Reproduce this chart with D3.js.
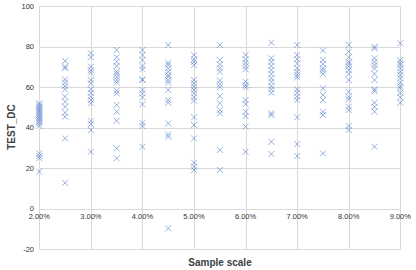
<!DOCTYPE html>
<html>
<head>
<meta charset="utf-8">
<script src="https://cdn.jsdelivr.net/npm/d3@7"></script>
<style>
  html, body { margin: 0; padding: 0; background: #fff; }
  svg { display: block; }
</style>
</head>
<body>
<svg id="chart"></svg>
<script>
// sample scale (%) for each column of points
const sampleScale = [2, 2.5, 3, 3.5, 4, 4.5, 5, 5.5, 6, 6.5, 7, 7.5, 8, 8.5, 9];

// TEST_DC values, one list per sample scale
const testDc = [
	[52.0, 51.2, 50.3, 49.5, 48.7, 48.0, 47.1, 46.3, 45.4, 44.6, 43.8, 43.0, 42.1, 40.8, 27.3, 26.0, 24.9, 18.3],
	[72.9, 70.1, 69.3, 63.8, 62.2, 60.5, 58.9, 55.3, 52.8, 50.3, 47.4, 45.4, 34.7, 12.8],
	[76.7, 74.7, 70.1, 68.4, 67.1, 63.5, 61.9, 58.9, 57.2, 55.3, 53.6, 52.0, 43.4, 41.8, 38.8, 28.1],
	[78.3, 74.7, 72.5, 70.4, 67.6, 66.5, 65.1, 63.5, 62.2, 58.2, 56.9, 51.2, 47.9, 43.4, 29.8, 24.9],
	[78.3, 75.8, 73.4, 70.4, 68.8, 63.8, 63.5, 58.6, 56.9, 55.0, 51.5, 42.4, 40.8, 30.6],
	[80.8, 72.0, 70.9, 69.3, 67.6, 66.0, 65.1, 63.5, 62.2, 58.6, 53.6, 52.3, 42.1, 36.7, 35.5, -9.7],
	[75.8, 73.7, 72.5, 70.9, 63.5, 61.9, 60.2, 58.6, 56.9, 55.0, 53.3, 45.1, 41.3, 34.7, 22.7, 20.7, 19.1],
	[80.8, 73.4, 71.2, 69.3, 67.6, 63.2, 61.5, 60.0, 55.6, 52.0, 48.7, 47.1, 29.0, 19.1],
	[75.8, 73.7, 72.0, 70.4, 68.8, 62.7, 61.0, 59.9, 53.6, 51.7, 47.9, 45.7, 40.5, 28.1],
	[81.9, 74.2, 72.5, 70.4, 68.4, 66.5, 64.3, 62.7, 60.5, 58.9, 57.2, 47.1, 46.2, 33.1, 27.0],
	[80.8, 75.8, 73.7, 71.7, 69.3, 67.6, 66.0, 64.8, 58.9, 57.2, 55.3, 53.6, 45.1, 31.9, 26.0],
	[78.0, 73.4, 71.4, 69.3, 68.1, 66.5, 59.4, 56.1, 53.6, 47.9, 46.2, 27.3],
	[80.8, 77.5, 74.7, 72.5, 71.4, 70.1, 68.4, 66.5, 63.5, 57.7, 55.3, 54.0, 50.3, 48.7, 40.8, 38.8],
	[79.9, 79.1, 74.2, 72.5, 70.9, 69.3, 66.5, 63.5, 58.9, 58.0, 52.3, 50.3, 47.9, 30.6],
	[81.6, 73.4, 72.0, 70.9, 69.3, 67.6, 66.0, 64.3, 62.2, 60.5, 59.4, 57.2, 55.0, 52.3]
];

const yTicks = [-20, 0, 20, 40, 60, 80, 100];
const xTicks = [2, 3, 4, 5, 6, 7, 8, 9];

const width = 416, height = 270;
const svg = d3.select('#chart').attr('width', width).attr('height', height);

const x = d3.scaleLinear().domain([2, 9]).range([39.3, 400.3]);
const y = d3.scaleLinear().domain([-20, 100]).range([249.3, 6]);

// gridlines
svg.append('g')
	.selectAll('line')
	.data(yTicks)
	.enter()
	.append('line')
	.attr('x1', x(2)).attr('x2', x(9))
	.attr('y1', d => Math.round(y(d)) + 0.5).attr('y2', d => Math.round(y(d)) + 0.5)
	.style('stroke', '#d9d9d9')
	.style('stroke-width', 1);

svg.append('g')
	.selectAll('line')
	.data(xTicks)
	.enter()
	.append('line')
	.attr('x1', d => Math.round(x(d)) + 0.5).attr('x2', d => Math.round(x(d)) + 0.5)
	.attr('y1', y(100)).attr('y2', y(-20))
	.style('stroke', '#d9d9d9')
	.style('stroke-width', 1);

// y tick labels
svg.append('g')
	.selectAll('text')
	.data(yTicks)
	.enter()
	.append('text')
	.attr('x', 34)
	.attr('y', d => y(d))
	.attr('dy', '0.35em')
	.attr('text-anchor', 'end')
	.style('font', '7.5px "Liberation Sans", Arial, sans-serif')
	.style('fill', '#333')
	.text(d => d);

// x tick labels sit just under the zero line
svg.append('g')
	.selectAll('text')
	.data(xTicks)
	.enter()
	.append('text')
	.attr('x', d => x(d))
	.attr('y', y(0) + 10.5)
	.attr('text-anchor', 'middle')
	.style('font', '7.5px "Liberation Sans", Arial, sans-serif')
	.style('fill', '#333')
	.text(d => d.toFixed(2) + '%');

// points
const points = [];
sampleScale.forEach((s, i) => testDc[i].forEach(v => points.push({ s, v })));

const r = 3;
svg.append('g')
	.selectAll('path')
	.data(points)
	.enter()
	.append('path')
	.attr('d', d => {
		const cx = x(d.s), cy = y(d.v);
		return `M${cx - r},${cy - r}L${cx + r},${cy + r}M${cx - r},${cy + r}L${cx + r},${cy - r}`;
	})
	.style('fill', 'none')
	.style('stroke', '#4472c4')
	.style('stroke-width', 0.85)
	.style('stroke-opacity', 0.65);

// axis titles
svg.append('text')
	.attr('x', 220)
	.attr('y', 266)
	.attr('text-anchor', 'middle')
	.style('font', 'bold 10px "Liberation Sans", Arial, sans-serif')
	.style('fill', '#404040')
	.text('Sample scale');

svg.append('text')
	.attr('transform', 'translate(15,127) rotate(-90)')
	.attr('text-anchor', 'middle')
	.style('font', 'bold 10px "Liberation Sans", Arial, sans-serif')
	.style('fill', '#404040')
	.text('TEST_DC');
</script>
</body>
</html>
